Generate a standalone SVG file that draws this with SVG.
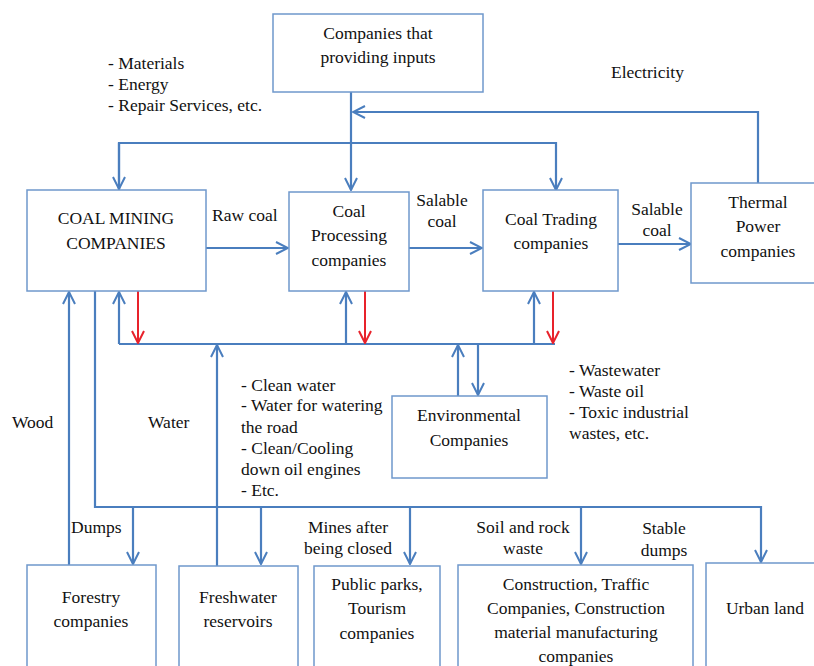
<svg xmlns="http://www.w3.org/2000/svg" width="814" height="666" viewBox="0 0 814 666">
<defs>
<style>
.box{fill:#fff;stroke:#6f98cc;stroke-width:1.5}
.c{fill:none;stroke:#4a7ebe;stroke-width:2.2}
.r{fill:none;stroke:#e8222b;stroke-width:2}
.m{text-anchor:middle}
</style>
<marker id="a" viewBox="0 0 14 14" refX="13" refY="7" markerWidth="14" markerHeight="14" markerUnits="userSpaceOnUse" orient="auto">
<path d="M1,1 L13,7 L1,13" fill="none" stroke="#4a7ebe" stroke-width="2"/>
</marker>
<marker id="ar" viewBox="0 0 14 14" refX="13" refY="7" markerWidth="14" markerHeight="14" markerUnits="userSpaceOnUse" orient="auto">
<path d="M1,1 L13,7 L1,13" fill="none" stroke="#e8222b" stroke-width="2"/>
</marker>
</defs>
<rect width="814" height="666" fill="#fff"/>

<g id="connectors">
<path class="c" d="M351,92 V190" marker-end="url(#a)"/>
<path class="c" d="M758,183 V112 H353" marker-end="url(#a)"/>
<path class="c" d="M119,190 V143 H556 V190" marker-end="url(#a)"/>
<path class="c" d="M119,143 V189" marker-end="url(#a)"/>
<path class="c" d="M206,248 H288" marker-end="url(#a)"/>
<path class="c" d="M409,248 H482" marker-end="url(#a)"/>
<path class="c" d="M618,244 H691" marker-end="url(#a)"/>
<path class="c" d="M119,344 H555"/>
<path class="c" d="M119,344 V292" marker-end="url(#a)"/>
<path class="c" d="M346,344 V292" marker-end="url(#a)"/>
<path class="c" d="M534,344 V292" marker-end="url(#a)"/>
<path class="r" d="M138,291 V343" marker-end="url(#ar)"/>
<path class="r" d="M365,291 V343" marker-end="url(#ar)"/>
<path class="r" d="M553,291 V343" marker-end="url(#ar)"/>
<path class="c" d="M217,566 V345" marker-end="url(#a)"/>
<path class="c" d="M458,396 V345" marker-end="url(#a)"/>
<path class="c" d="M478,344 V395" marker-end="url(#a)"/>
<path class="c" d="M69,565 V292" marker-end="url(#a)"/>
<path class="c" d="M95,291 V507 H761 V562" marker-end="url(#a)"/>
<path class="c" d="M133,507 V564" marker-end="url(#a)"/>
<path class="c" d="M261,507 V564" marker-end="url(#a)"/>
<path class="c" d="M410,507 V564" marker-end="url(#a)"/>
<path class="c" d="M581,507 V564" marker-end="url(#a)" stroke-width="2.6"/>
</g>

<g style="font-family:'Liberation Serif','Times New Roman',serif;font-size:17.5px" fill="#111">
<g id="inputs">
<rect class="box" x="273" y="14" width="210" height="78"/>
<text class="m" x="378" y="39">Companies that</text>
<text class="m" x="378" y="63">providing inputs</text>
</g>
<g id="mining">
<rect class="box" x="27" y="190" width="179" height="101"/>
<text class="m" x="116" y="224">COAL MINING</text>
<text class="m" x="116" y="249">COMPANIES</text>
</g>
<g id="processing">
<rect class="box" x="289" y="192" width="120" height="99"/>
<text class="m" x="349" y="217">Coal</text>
<text class="m" x="349" y="241">Processing</text>
<text class="m" x="349" y="266">companies</text>
</g>
<g id="trading">
<rect class="box" x="483" y="190" width="135" height="101"/>
<text class="m" x="551" y="225">Coal Trading</text>
<text class="m" x="551" y="249">companies</text>
</g>
<g id="thermal">
<rect class="box" x="691" y="183" width="130" height="100"/>
<text class="m" x="758" y="208">Thermal</text>
<text class="m" x="758" y="232">Power</text>
<text class="m" x="758" y="257">companies</text>
</g>
<g id="environmental">
<rect class="box" x="392" y="396" width="155" height="82"/>
<text class="m" x="469" y="421">Environmental</text>
<text class="m" x="469" y="446">Companies</text>
</g>
<g id="forestry">
<rect class="box" x="27" y="565" width="129" height="110"/>
<text class="m" x="91" y="603">Forestry</text>
<text class="m" x="91" y="627">companies</text>
</g>
<g id="freshwater">
<rect class="box" x="179" y="566" width="119" height="110"/>
<text class="m" x="238" y="603">Freshwater</text>
<text class="m" x="238" y="627">reservoirs</text>
</g>
<g id="parks">
<rect class="box" x="314" y="566" width="126" height="110"/>
<text class="m" x="377" y="590">Public parks,</text>
<text class="m" x="377" y="614">Tourism</text>
<text class="m" x="377" y="639">companies</text>
</g>
<g id="construction">
<rect class="box" x="458" y="565" width="235" height="110"/>
<text class="m" x="576" y="590">Construction, Traffic</text>
<text class="m" x="576" y="614">Companies, Construction</text>
<text class="m" x="576" y="638">material manufacturing</text>
<text class="m" x="576" y="662">companies</text>
</g>
<g id="urban">
<rect class="box" x="706" y="563" width="115" height="110"/>
<text class="m" x="765" y="614">Urban land</text>
</g>

<g id="labels">
<text x="108" y="69">- Materials</text>
<text x="108" y="90">- Energy</text>
<text x="108" y="111">- Repair Services, etc.</text>
<text x="611" y="78">Electricity</text>
<text x="212" y="221">Raw coal</text>
<text class="m" x="442" y="206">Salable</text>
<text class="m" x="442" y="227">coal</text>
<text class="m" x="657" y="215">Salable</text>
<text class="m" x="657" y="236">coal</text>
<text x="241" y="391">- Clean water</text>
<text x="241" y="411">- Water for watering</text>
<text x="241" y="433">the road</text>
<text x="241" y="454">- Clean/Cooling</text>
<text x="241" y="475">down oil engines</text>
<text x="241" y="496">- Etc.</text>
<text x="569" y="376">- Wastewater</text>
<text x="569" y="397">- Waste oil</text>
<text x="569" y="418">- Toxic industrial</text>
<text x="569" y="439">wastes, etc.</text>
<text x="12" y="428">Wood</text>
<text x="148" y="428">Water</text>
<text x="71" y="533">Dumps</text>
<text class="m" x="348" y="533">Mines after</text>
<text class="m" x="348" y="554">being closed</text>
<text class="m" x="523" y="533">Soil and rock</text>
<text class="m" x="523" y="554">waste</text>
<text class="m" x="664" y="534">Stable</text>
<text class="m" x="664" y="556">dumps</text>
</g>
</g>
</svg>
